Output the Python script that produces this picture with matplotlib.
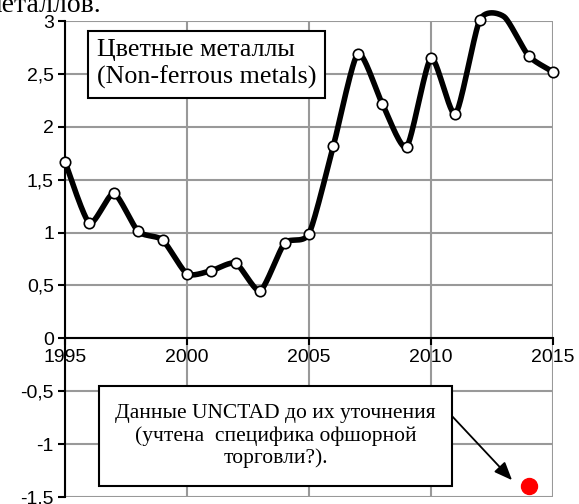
import matplotlib
matplotlib.use("Agg")
import matplotlib.pyplot as plt
from matplotlib.patches import Rectangle
import numpy as np

years = np.arange(1995, 2016)
values = [1.67, 1.09, 1.37, 1.01, 0.93, 0.61, 0.64, 0.71, 0.45, 0.90, 0.99,
          1.82, 2.69, 2.22, 1.81, 2.65, 2.12, 3.01, 3.04, 2.67, 2.52]
unctad_year = [2014]
unctad_value = [-1.40]

def smooth(x, y, k=0.11, n=30):
    # Excel-like smoothed line (Bezier through points, low tension)
    p = np.column_stack([x, y]).astype(float)
    p = np.vstack([p[0], p, p[-1]])
    out = []
    for i in range(1, len(p) - 2):
        p0, p1, p2, p3 = p[i - 1], p[i], p[i + 1], p[i + 2]
        c1 = p1 + (p2 - p0) * k
        c2 = p2 - (p3 - p1) * k
        t = np.linspace(0, 1, n)[:, None]
        seg = (1 - t)**3 * p1 + 3 * (1 - t)**2 * t * c1 + 3 * (1 - t) * t**2 * c2 + t**3 * p2
        out.append(seg)
    out = np.vstack(out)
    return out[:, 0], out[:, 1]

fig = plt.figure(figsize=(5.79, 5.04), dpi=100)
ax = fig.add_axes([65 / 579, 1 - 497 / 504, (553 - 65) / 579, (497 - 21) / 504])

sx, sy = smooth(years, values)
ax.plot(sx, sy, color="black", lw=4, solid_capstyle="round", solid_joinstyle="round",
        clip_on=False, zorder=3)
vals = np.array(values)
mask = vals <= 3.02
ax.plot(years[mask], vals[mask], "o", ms=7.5, mfc="white", mec="black", mew=1.2, zorder=4,
        clip_on=False)
ax.plot(unctad_year, unctad_value, "o", ms=11.5, color="#ff0000", zorder=4, clip_on=False)

ax.set_xlim(1995, 2015)
ax.set_ylim(-1.5, 3)
ax.set_xticks([1995, 2000, 2005, 2010, 2015])
yt = np.arange(-1.5, 3.01, 0.5)
ax.set_yticks(yt)
ax.set_yticklabels([("%g" % v).replace(".", ",") for v in yt])
ax.grid(True, color="#999999", lw=1.5)
ax.set_axisbelow(True)
for s in ["top", "right"]:
    ax.spines[s].set_visible(False)
ax.spines["bottom"].set_position(("data", 0))
ax.spines["bottom"].set_linewidth(1.5)
ax.spines["left"].set_linewidth(1.5)
ax.tick_params(axis="both", direction="out", length=5, width=1.5, labelsize=14, pad=3)
for lab in ax.get_xticklabels() + ax.get_yticklabels():
    lab.set_family("Liberation Sans")

# upper label box
ax.add_patch(Rectangle((1995.94, 2.274), 9.72, 0.632, fc="white", ec="black", lw=1.5, zorder=5))
ax.text(1996.3, 2.59, "Цветные металлы\n(Non-ferrous metals)", family="Liberation Serif",
        fontsize=18.7, va="center", ha="left", multialignment="left", linespacing=1.25, zorder=6)

# lower note box
ax.add_patch(Rectangle((1996.39, -1.396), 14.47, 0.943, fc="white", ec="black", lw=1.5, zorder=5))
ax.text(2003.63, -0.925, "Данные UNCTAD до их уточнения\n(учтена  специфика офшорной\nторговли?).",
        family="Liberation Serif", fontsize=15.5, va="center", ha="center", linespacing=1.2,
        zorder=6)
ax.annotate("", xy=(2013.4, -1.36), xytext=(2010.8, -0.72),
            arrowprops=dict(arrowstyle="-|>,head_length=1.1,head_width=0.45", color="black", lw=1.3),
            zorder=6)

fig.text(-16 / 579, 1 - 12 / 504, "металлов.", family="Liberation Serif", fontsize=20,
         va="baseline", ha="left")

fig.savefig("out.png", dpi=100)
